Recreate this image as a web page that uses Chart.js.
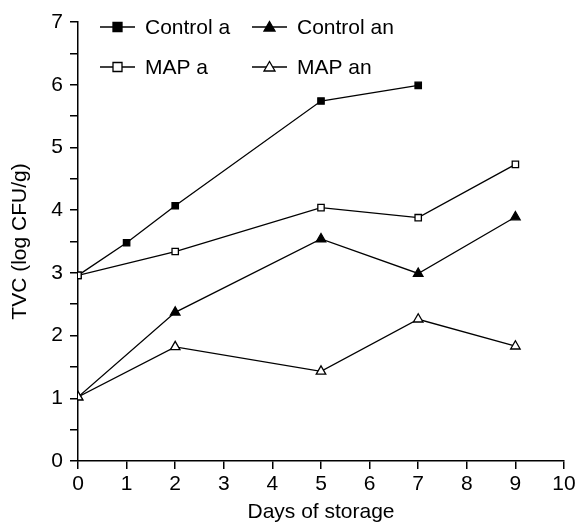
<!DOCTYPE html>
<html>
<head>
<meta charset="utf-8">
<script src="https://cdn.jsdelivr.net/npm/chart.js@4"></script>
<style>
  html, body { margin: 0; padding: 0; background: #fff; }
  #wrap { width: 576px; height: 523px; }
</style>
</head>
<body>
<div id="wrap"><canvas id="myChart" width="576" height="523"></canvas></div>
<script>
const seriesNames = ['Control a', 'Control an', 'MAP a', 'MAP an'];

const controlADays = [0, 1, 2, 5, 7];
const controlA = [2.96, 3.48, 4.07, 5.74, 5.99];

const controlAnDays = [0, 2, 5, 7, 9];
const controlAn = [1.02, 2.37, 3.54, 2.99, 3.89];

const mapADays = [0, 2, 5, 7, 9];
const mapA = [2.96, 3.34, 4.04, 3.88, 4.73];

const mapAnDays = [0, 2, 5, 7, 9];
const mapAn = [1.02, 1.82, 1.43, 2.26, 1.83];

const xTicks = [0, 1, 2, 3, 4, 5, 6, 7, 8, 9, 10];
const yTicks = [0, 1, 2, 3, 4, 5, 6, 7];

const font = 'Liberation Sans, Arial, Helvetica, sans-serif';

function pts(xs, ys) {
    return xs.map((x, i) => ({ x: x, y: ys[i] }));
}

function line(label, data, style, fill, order) {
    return {
        label: label,
        data: data,
        borderColor: '#000',
        borderWidth: 1.3,
        pointStyle: style,
        pointRadius: style === 'triangle' ? 5.5 : 4.5,
        pointBackgroundColor: fill,
        pointBorderColor: '#000',
        pointBorderWidth: 1.3,
        tension: 0,
        order: order
    };
}

// draws the 2x2 legend inside the plot, like the original figure
const insideLegend = {
    id: 'insideLegend',
    afterDraw(chart) {
        const c = chart.ctx;
        const items = [
            { i: 0, x: 100, y: 27 },
            { i: 1, x: 252, y: 27 },
            { i: 2, x: 100, y: 67 },
            { i: 3, x: 252, y: 67 }
        ];
        c.save();
        items.forEach(({ i, x, y }) => {
            const ds = chart.data.datasets.find(d => d.label === seriesNames[i]);
            c.strokeStyle = '#000';
            c.lineWidth = 1.3;
            c.beginPath();
            c.moveTo(x, y);
            c.lineTo(x + 35, y);
            c.stroke();
            c.fillStyle = ds.pointBackgroundColor;
            c.beginPath();
            if (ds.pointStyle === 'rect') {
                c.rect(x + 13, y - 4.5, 9, 9);
            } else {
                c.moveTo(x + 17.5, y - 5.5);
                c.lineTo(x + 23, y + 4);
                c.lineTo(x + 12, y + 4);
                c.closePath();
            }
            c.fill();
            c.stroke();
            c.fillStyle = '#000';
            c.font = '21px ' + font;
            c.textBaseline = 'middle';
            c.fillText(seriesNames[i], x + 45, y + 1);
        });
        c.restore();
    }
};

const ctx = document.getElementById('myChart');

const myChart = new Chart(ctx, {
    type: 'line',
    data: {
        datasets: [
            line('Control a', pts(controlADays, controlA), 'rect', '#000', 3),
            line('Control an', pts(controlAnDays, controlAn), 'triangle', '#000', 4),
            line('MAP a', pts(mapADays, mapA), 'rect', '#fff', 1),
            line('MAP an', pts(mapAnDays, mapAn), 'triangle', '#fff', 2)
        ]
    },
    options: {
        responsive: false,
        animation: false,
        layout: { padding: { top: 22, right: 12, left: 4, bottom: 0 } },
        plugins: {
            legend: { display: false },
            tooltip: { enabled: false }
        },
        scales: {
            x: {
                type: 'linear',
                min: 0,
                max: 10,
                afterFit(s) {
                    s.height = 62;
                    s.paddingLeft = 0;
                    s.paddingRight = 0;
                },
                afterBuildTicks(s) { s.ticks = xTicks.map(v => ({ value: v })); },
                border: { color: '#000', width: 1.5 },
                grid: { drawOnChartArea: false, color: '#000', tickLength: 8, lineWidth: 1.5 },
                ticks: { color: '#000', font: { size: 21, family: font }, padding: 3, maxRotation: 0 },
                title: {
                    display: true,
                    text: 'Days of storage',
                    color: '#000',
                    font: { size: 21, family: font, lineHeight: 1 },
                    padding: { top: 0, bottom: 0 }
                }
            },
            y: {
                type: 'linear',
                min: 0,
                max: 7,
                afterFit(s) {
                    s.width = 74;
                    s.paddingTop = 0;
                    s.paddingBottom = 0;
                },
                afterBuildTicks(s) {
                    const t = [];
                    yTicks.forEach((v, i) => {
                        t.push({ value: v });
                        if (i < yTicks.length - 1) t.push({ value: v + 0.5 });
                    });
                    s.ticks = t;
                },
                border: { color: '#000', width: 1.5 },
                grid: { drawOnChartArea: false, color: '#000', tickLength: 8, lineWidth: 1.5 },
                ticks: {
                    color: '#000',
                    font: { size: 21, family: font },
                    padding: 7,
                    callback: v => (Number.isInteger(v) ? v : '')
                },
                title: {
                    display: true,
                    text: 'TVC (log CFU/g)',
                    color: '#000',
                    font: { size: 21, family: font },
                    padding: { bottom: 0 }
                }
            }
        }
    },
    plugins: [insideLegend]
});
</script>
</body>
</html>
